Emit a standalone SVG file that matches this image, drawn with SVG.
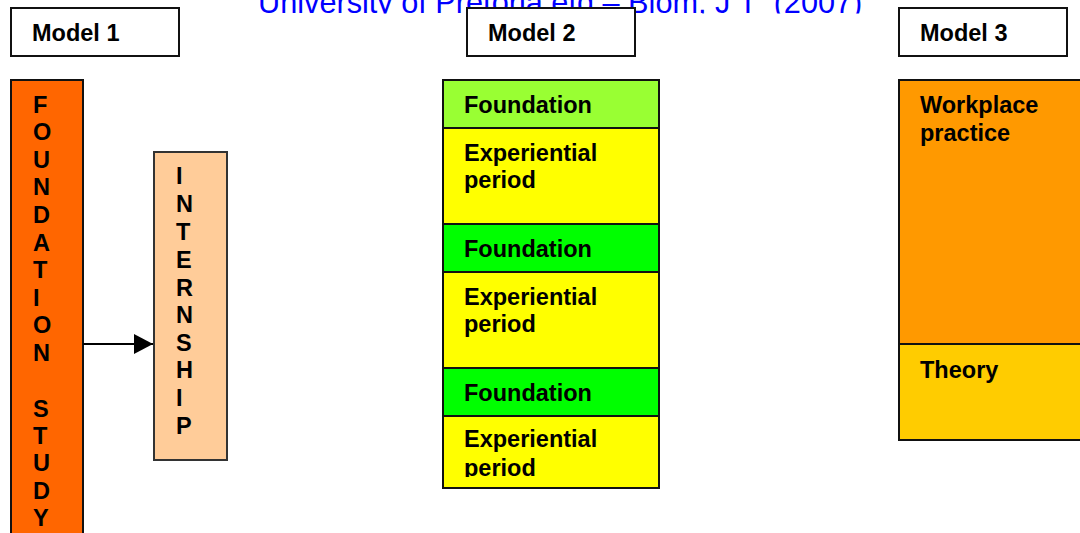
<svg xmlns="http://www.w3.org/2000/svg" width="1080" height="533" viewBox="0 0 1080 533">
  <defs>
    <style>
      .box { stroke: #111; stroke-width: 2; }
      .lbl { font-family: "Liberation Sans", Arial, sans-serif; font-weight: bold; font-size: 23.5px; fill: #000; }
      .title { font-family: "Liberation Sans", Arial, sans-serif; font-size: 30.7px; fill: #0000FF; white-space: pre; }
      .conn { stroke: #000; stroke-width: 2; fill: none; }
    </style>
    <marker id="arrow" markerWidth="20" markerHeight="20" refX="19" refY="10" orient="auto" markerUnits="userSpaceOnUse">
      <path d="M0,0 L19,10 L0,20 Z" fill="#000"/>
    </marker>
    <clipPath id="titleClip"><rect x="0" y="0" width="1080" height="13.5"/></clipPath>
    <clipPath id="lastClip"><rect x="443" y="416" width="216" height="61"/></clipPath>
  </defs>
  <rect width="1080" height="533" fill="#fff"/>

  <g id="title" clip-path="url(#titleClip)">
    <text class="title" x="258" y="12.5" xml:space="preserve">University of Pretoria etd – Blom, J T  (2007)</text>
  </g>

  <g id="model1-label">
    <rect class="box" x="11" y="8" width="168" height="48" fill="#fff"/>
    <text class="lbl" x="32" y="40.5">Model 1</text>
  </g>
  <g id="model2-label">
    <rect class="box" x="467" y="8" width="168" height="48" fill="#fff"/>
    <text class="lbl" x="488" y="40.5">Model 2</text>
  </g>
  <g id="model3-label">
    <rect class="box" x="899" y="8" width="168" height="48" fill="#fff"/>
    <text class="lbl" x="920" y="40.5">Model 3</text>
  </g>

  <g id="foundation-study">
    <rect class="box" x="11" y="80" width="72" height="470" fill="#FF6600"/>
    <text class="lbl" x="33">
      <tspan x="33" y="112.7">F</tspan>
      <tspan x="33" y="140.3">O</tspan>
      <tspan x="33" y="167.8">U</tspan>
      <tspan x="33" y="195.3">N</tspan>
      <tspan x="33" y="222.9">D</tspan>
      <tspan x="33" y="250.5">A</tspan>
      <tspan x="33" y="278">T</tspan>
      <tspan x="33" y="305.5">I</tspan>
      <tspan x="33" y="333.1">O</tspan>
      <tspan x="33" y="360.7">N</tspan>
      <tspan x="33" y="416.6">S</tspan>
      <tspan x="33" y="443.5">T</tspan>
      <tspan x="33" y="471">U</tspan>
      <tspan x="33" y="498.5">D</tspan>
      <tspan x="33" y="526">Y</tspan>
    </text>
  </g>

  <g id="internship">
    <rect x="154" y="152" width="73" height="308" fill="#FFCC99" stroke="#333" stroke-width="2"/>
    <text class="lbl">
      <tspan x="176" y="184.3">I</tspan>
      <tspan x="176" y="212.2">N</tspan>
      <tspan x="176" y="240">T</tspan>
      <tspan x="176" y="267.8">E</tspan>
      <tspan x="176" y="295.5">R</tspan>
      <tspan x="176" y="323">N</tspan>
      <tspan x="176" y="350.5">S</tspan>
      <tspan x="176" y="378.3">H</tspan>
      <tspan x="176" y="406">I</tspan>
      <tspan x="176" y="434">P</tspan>
    </text>
  </g>

  <g id="model2-column">
    <g id="m2-foundation1">
      <rect class="box" x="443" y="80" width="216" height="48" fill="#99FF33"/>
      <text class="lbl" x="464" y="113">Foundation</text>
    </g>
    <g id="m2-experiential1">
      <rect class="box" x="443" y="128" width="216" height="96" fill="#FFFF00"/>
      <text class="lbl" x="464" y="160.7">Experiential<tspan x="464" y="188.2">period</tspan></text>
    </g>
    <g id="m2-foundation2">
      <rect class="box" x="443" y="224" width="216" height="48" fill="#00FF00"/>
      <text class="lbl" x="464" y="257">Foundation</text>
    </g>
    <g id="m2-experiential2">
      <rect class="box" x="443" y="272" width="216" height="96" fill="#FFFF00"/>
      <text class="lbl" x="464" y="304.7">Experiential<tspan x="464" y="332.2">period</tspan></text>
    </g>
    <g id="m2-foundation3">
      <rect class="box" x="443" y="368" width="216" height="48" fill="#00FF00"/>
      <text class="lbl" x="464" y="401">Foundation</text>
    </g>
    <g id="m2-experiential3">
      <rect class="box" x="443" y="416" width="216" height="72" fill="#FFFF00"/>
      <text class="lbl" x="464" y="447.3" clip-path="url(#lastClip)">Experiential<tspan x="464" y="475.5">period</tspan></text>
    </g>
  </g>

  <g id="model3-column">
    <g id="m3-workplace">
      <rect class="box" x="899" y="80" width="200" height="264" fill="#FF9900"/>
      <text class="lbl" x="920" y="113">Workplace<tspan x="920" y="140.5">practice</tspan></text>
    </g>
    <g id="m3-theory">
      <rect class="box" x="899" y="344" width="200" height="96" fill="#FFCC00"/>
      <text class="lbl" x="920" y="378">Theory</text>
    </g>
  </g>

  <g id="connectors">
    <line class="conn" x1="83" y1="344" x2="153" y2="344" marker-end="url(#arrow)"/>
  </g>
</svg>
